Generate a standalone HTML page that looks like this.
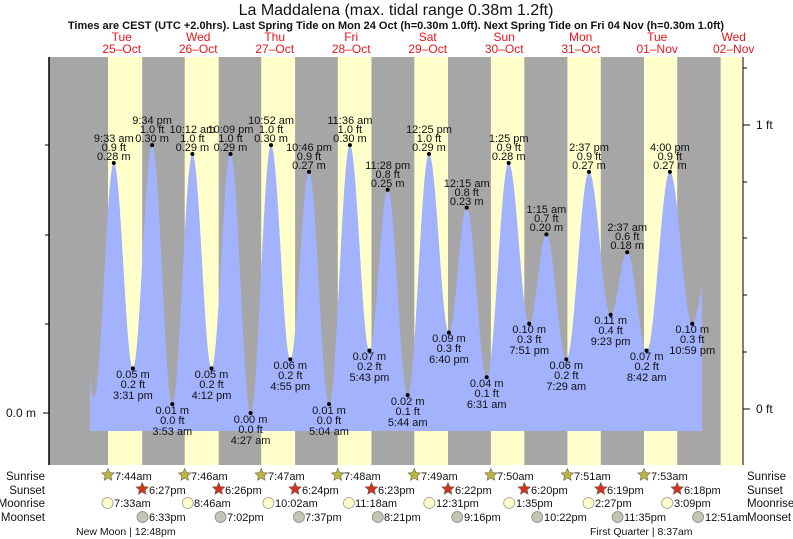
<!DOCTYPE html>
<html><head><meta charset="utf-8"><style>
body{margin:0;background:#fff}
svg{display:block}
text{font-family:"Liberation Sans",sans-serif;fill:#111}
.l{font-size:11px;text-anchor:middle}
</style></head><body>
<svg id="s" width="793" height="539" viewBox="0 0 793 539">
<rect x="49" y="57" width="694" height="408" fill="#a6a6a6"/>
<g fill="#ffffcc">
<rect x="108" y="57" width="34.2" height="408"/>
<rect x="184.7" y="57" width="34" height="408"/>
<rect x="261.2" y="57" width="33.9" height="408"/>
<rect x="337.8" y="57" width="33.7" height="408"/>
<rect x="414.3" y="57" width="33.7" height="408"/>
<rect x="490.9" y="57" width="33.4" height="408"/>
<rect x="567.4" y="57" width="33.4" height="408"/>
<rect x="644" y="57" width="33.2" height="408"/>
<rect x="720.6" y="57" width="22.4" height="408"/>
</g>
<path id="tide" fill="#a2b2fc" d=""/>
<line x1="49" y1="57" x2="49" y2="465" stroke="#000" stroke-width="1.5"/>
<line x1="743" y1="57" x2="743" y2="465" stroke="#000" stroke-width="1"/>
<g stroke="#000"><line x1="43" y1="413" x2="49" y2="413"/><line x1="45" y1="324" x2="49" y2="324"/><line x1="45" y1="235" x2="49" y2="235"/><line x1="45" y1="145" x2="49" y2="145"/>
<line x1="743" y1="409" x2="750" y2="409"/><line x1="743" y1="125" x2="750" y2="125"/>
<line x1="743" y1="352" x2="747" y2="352"/><line x1="743" y1="295" x2="747" y2="295"/><line x1="743" y1="238" x2="747" y2="238"/><line x1="743" y1="182" x2="747" y2="182"/><line x1="743" y1="68" x2="747" y2="68"/></g>
<text x="36" y="417" font-size="12" text-anchor="end">0.0 m</text>
<text x="756" y="413" font-size="12">0 ft</text>
<text x="756" y="129" font-size="12">1 ft</text>
<text x="396" y="15" font-size="16" text-anchor="middle">La Maddalena (max. tidal range 0.38m 1.2ft)</text>
<text x="396" y="29" font-size="11" font-weight="bold" text-anchor="middle">Times are CEST (UTC +2.0hrs). Last Spring Tide on Mon 24 Oct (h=0.30m 1.0ft). Next Spring Tide on Fri 04 Nov (h=0.30m 1.0ft)</text>
<g font-size="12" text-anchor="middle">
<text x="121.7" y="41" style="fill:#e8161b">Tue</text><text x="121.7" y="53" style="fill:#e8161b">25‒Oct</text>
<text x="198.2" y="41" style="fill:#e8161b">Wed</text><text x="198.2" y="53" style="fill:#e8161b">26‒Oct</text>
<text x="274.7" y="41" style="fill:#e8161b">Thu</text><text x="274.7" y="53" style="fill:#e8161b">27‒Oct</text>
<text x="351.2" y="41" style="fill:#e8161b">Fri</text><text x="351.2" y="53" style="fill:#e8161b">28‒Oct</text>
<text x="427.7" y="41" style="fill:#e8161b">Sat</text><text x="427.7" y="53" style="fill:#e8161b">29‒Oct</text>
<text x="504.2" y="41" style="fill:#e8161b">Sun</text><text x="504.2" y="53" style="fill:#e8161b">30‒Oct</text>
<text x="580.7" y="41" style="fill:#e8161b">Mon</text><text x="580.7" y="53" style="fill:#e8161b">31‒Oct</text>
<text x="657.2" y="41" style="fill:#e8161b">Tue</text><text x="657.2" y="53" style="fill:#e8161b">01‒Nov</text>
<text x="733.7" y="41" style="fill:#e8161b">Wed</text><text x="733.7" y="53" style="fill:#e8161b">02‒Nov</text>
</g>
<g id="dots"></g>
<g class="l">
<text class="l" x="113.8" y="142">9:33 am</text><text class="l" x="113.8" y="151">0.9 ft</text><text class="l" x="113.8" y="160">0.28 m</text>
<text class="l" x="132.9" y="378">0.05 m</text><text class="l" x="132.9" y="388">0.2 ft</text><text class="l" x="132.9" y="399">3:31 pm</text>
<text class="l" x="152.1" y="124">9:34 pm</text><text class="l" x="152.1" y="133">1.0 ft</text><text class="l" x="152.1" y="142">0.30 m</text>
<text class="l" x="172.3" y="414">0.01 m</text><text class="l" x="172.3" y="424">0.0 ft</text><text class="l" x="172.3" y="435">3:53 am</text>
<text class="l" x="192.4" y="133">10:12 am</text><text class="l" x="192.4" y="142">1.0 ft</text><text class="l" x="192.4" y="151">0.29 m</text>
<text class="l" x="211.5" y="378">0.05 m</text><text class="l" x="211.5" y="388">0.2 ft</text><text class="l" x="211.5" y="399">4:12 pm</text>
<text class="l" x="230.5" y="133">10:09 pm</text><text class="l" x="230.5" y="142">1.0 ft</text><text class="l" x="230.5" y="151">0.29 m</text>
<text class="l" x="250.6" y="423">0.00 m</text><text class="l" x="250.6" y="433">0.0 ft</text><text class="l" x="250.6" y="444">4:27 am</text>
<text class="l" x="271.1" y="124">10:52 am</text><text class="l" x="271.1" y="133">1.0 ft</text><text class="l" x="271.1" y="142">0.30 m</text>
<text class="l" x="290.3" y="369">0.06 m</text><text class="l" x="290.3" y="379">0.2 ft</text><text class="l" x="290.3" y="390">4:55 pm</text>
<text class="l" x="309" y="151">10:46 pm</text><text class="l" x="309" y="160">0.9 ft</text><text class="l" x="309" y="169">0.27 m</text>
<text class="l" x="329" y="414">0.01 m</text><text class="l" x="329" y="424">0.0 ft</text><text class="l" x="329" y="435">5:04 am</text>
<text class="l" x="349.9" y="124">11:36 am</text><text class="l" x="349.9" y="133">1.0 ft</text><text class="l" x="349.9" y="142">0.30 m</text>
<text class="l" x="369.4" y="360">0.07 m</text><text class="l" x="369.4" y="370">0.2 ft</text><text class="l" x="369.4" y="381">5:43 pm</text>
<text class="l" x="387.7" y="169">11:28 pm</text><text class="l" x="387.7" y="178">0.8 ft</text><text class="l" x="387.7" y="187">0.25 m</text>
<text class="l" x="407.7" y="405">0.02 m</text><text class="l" x="407.7" y="415">0.1 ft</text><text class="l" x="407.7" y="426">5:44 am</text>
<text class="l" x="429" y="133">12:25 pm</text><text class="l" x="429" y="142">1.0 ft</text><text class="l" x="429" y="151">0.29 m</text>
<text class="l" x="448.9" y="342">0.09 m</text><text class="l" x="448.9" y="352">0.3 ft</text><text class="l" x="448.9" y="363">6:40 pm</text>
<text class="l" x="466.7" y="187">12:15 am</text><text class="l" x="466.7" y="196">0.8 ft</text><text class="l" x="466.7" y="205">0.23 m</text>
<text class="l" x="486.7" y="387">0.04 m</text><text class="l" x="486.7" y="397">0.1 ft</text><text class="l" x="486.7" y="408">6:31 am</text>
<text class="l" x="508.7" y="142">1:25 pm</text><text class="l" x="508.7" y="151">0.9 ft</text><text class="l" x="508.7" y="160">0.28 m</text>
<text class="l" x="529.2" y="333">0.10 m</text><text class="l" x="529.2" y="343">0.3 ft</text><text class="l" x="529.2" y="354">7:51 pm</text>
<text class="l" x="546.4" y="213">1:15 am</text><text class="l" x="546.4" y="222">0.7 ft</text><text class="l" x="546.4" y="231">0.20 m</text>
<text class="l" x="566.3" y="369">0.06 m</text><text class="l" x="566.3" y="379">0.2 ft</text><text class="l" x="566.3" y="390">7:29 am</text>
<text class="l" x="589" y="151">2:37 pm</text><text class="l" x="589" y="160">0.9 ft</text><text class="l" x="589" y="169">0.27 m</text>
<text class="l" x="610.6" y="324">0.11 m</text><text class="l" x="610.6" y="334">0.4 ft</text><text class="l" x="610.6" y="345">9:23 pm</text>
<text class="l" x="627.2" y="231">2:37 am</text><text class="l" x="627.2" y="240">0.6 ft</text><text class="l" x="627.2" y="249">0.18 m</text>
<text class="l" x="646.7" y="360">0.07 m</text><text class="l" x="646.7" y="370">0.2 ft</text><text class="l" x="646.7" y="381">8:42 am</text>
<text class="l" x="669.9" y="151">4:00 pm</text><text class="l" x="669.9" y="160">0.9 ft</text><text class="l" x="669.9" y="169">0.27 m</text>
<text class="l" x="692.2" y="333">0.10 m</text><text class="l" x="692.2" y="343">0.3 ft</text><text class="l" x="692.2" y="354">10:59 pm</text>
</g>
<g font-size="11.5">
<text x="45" y="480" text-anchor="end">Sunrise</text><text x="45" y="494" text-anchor="end">Sunset</text><text x="45" y="507" text-anchor="end">Moonrise</text><text x="45" y="521" text-anchor="end">Moonset</text>
<text x="747" y="480">Sunrise</text><text x="747" y="494">Sunset</text><text x="747" y="507">Moonrise</text><text x="747" y="521">Moonset</text>
</g>
<g id="icons"></g>
<g font-size="10.5">
<text x="76" y="535">New Moon | 12:48pm</text>
<text x="590" y="535">First Quarter | 8:37am</text>
</g>
<g font-size="11">
<text x="115" y="480">7:44am</text><text x="191" y="480">7:46am</text><text x="268" y="480">7:47am</text><text x="344" y="480">7:48am</text><text x="421" y="480">7:49am</text><text x="497" y="480">7:50am</text><text x="574" y="480">7:51am</text><text x="651" y="480">7:53am</text>
<text x="149" y="494">6:27pm</text><text x="225" y="494">6:26pm</text><text x="302" y="494">6:24pm</text><text x="378" y="494">6:23pm</text><text x="455" y="494">6:22pm</text><text x="531" y="494">6:20pm</text><text x="607" y="494">6:19pm</text><text x="684" y="494">6:18pm</text>
<text x="114" y="507">7:33am</text><text x="194" y="507">8:46am</text><text x="275" y="507">10:02am</text><text x="355" y="507">11:18am</text><text x="436" y="507">12:31pm</text><text x="516" y="507">1:35pm</text><text x="595" y="507">2:27pm</text><text x="674" y="507">3:09pm</text>
<text x="149" y="521">6:33pm</text><text x="227" y="521">7:02pm</text><text x="305" y="521">7:37pm</text><text x="384" y="521">8:21pm</text><text x="464" y="521">9:16pm</text><text x="544" y="521">10:22pm</text><text x="624" y="521">11:35pm</text><text x="705" y="521">12:51am</text>
</g>
</svg>
<script>
var X0=83.4,D=76.5,Z=413,K=893;
var ex=[[-0.12,0.28],[0.138,0.017],
[0.3979,0.28],[0.6465,0.05],[0.8986,0.30],[1.1618,0.01],[1.425,0.29],[1.675,0.05],[1.923,0.29],[2.1854,0.00],[2.4528,0.30],[2.7049,0.06],[2.9486,0.27],[3.2111,0.01],[3.4833,0.30],[3.7382,0.07],[3.9778,0.25],[4.2389,0.02],[4.5174,0.29],[4.7778,0.09],[5.0104,0.23],[5.2715,0.04],[5.559,0.28],[5.827,0.10],[6.0521,0.20],[6.312,0.06],[6.609,0.27],[6.891,0.11],[7.109,0.18],[7.3625,0.07],[7.6667,0.27],[7.9576,0.10],[8.229,0.20]];
function h(x){var d=(x-X0)/D;for(var i=0;i<ex.length-1;i++){if(d>=ex[i][0]&&d<=ex[i+1][0]){var f=(d-ex[i][0])/(ex[i+1][0]-ex[i][0]);return ex[i][1]+(ex[i+1][1]-ex[i][1])*(1-Math.cos(Math.PI*f))/2;}}return 0;}
var p="M90 431";for(var x=90;x<=702;x+=0.5){p+=" L"+x+" "+(Z-h(x)*K).toFixed(1);}p+=" L702 431 Z";
document.getElementById('tide').setAttribute('d',p);
var g="";for(var i=2;i<ex.length-1;i++){g+='<circle cx="'+(X0+ex[i][0]*D).toFixed(1)+'" cy="'+(Z-ex[i][1]*K).toFixed(1)+'" r="2" fill="#000"/>';}
document.getElementById('dots').innerHTML=g;
function star(cx,cy,c){var s="";for(var k=0;k<10;k++){var r=k%2?3:6.5,a=Math.PI*k/5-Math.PI/2;s+=(cx+r*Math.cos(a)).toFixed(1)+","+(cy+r*Math.sin(a)).toFixed(1)+" ";}return '<polygon points="'+s+'" fill="'+c+'" stroke="#665" stroke-width="0.6"/>';}
var sr=[108,184.7,261.2,337.8,414.3,490.9,567.4,644],ss=[142.2,218.7,295.1,371.5,448,524.3,600.8,677.2],
mr=[107.5,187.8,268.4,348.9,429.3,509.2,588.5,667.2],ms=[142.5,220.6,298.9,377.8,457.2,537.2,617.6,698.1];
var o="";for(var i=0;i<8;i++){o+=star(sr[i],475,"#bdb63a")+star(ss[i],489,"#d4321e")+'<circle cx="'+mr[i]+'" cy="503" r="5.5" fill="#ffffc8" stroke="#999" stroke-width="0.8"/>'+'<circle cx="'+ms[i]+'" cy="517" r="5.5" fill="#c4c4b4" stroke="#888" stroke-width="0.8"/>';}
document.getElementById('icons').innerHTML=o;
</script>
</body></html>
